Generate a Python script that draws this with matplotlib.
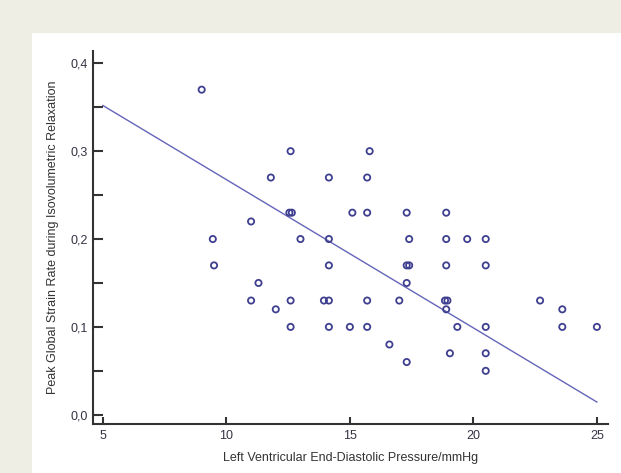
import numpy as np
import matplotlib
matplotlib.use('Agg')
import matplotlib.pyplot as plt
from matplotlib.patches import Rectangle
from matplotlib.ticker import MultipleLocator

# LVEDP (mmHg) vs peak global strain rate during IVR
lvedp = [9.0, 9.45, 9.5, 11.0, 11.0, 11.3, 11.8, 12.0, 12.6, 12.55, 12.65,
         13.0, 12.6, 12.6, 14.15, 14.15, 14.15, 13.95, 14.15, 14.15, 15.0,
         15.1, 15.7, 15.7, 15.8, 15.7, 15.7, 16.6, 17.0, 17.3, 17.4, 17.3,
         17.4, 17.3, 17.3, 18.9, 18.9, 18.9, 18.85, 18.95, 18.9, 19.35,
         19.05, 19.75, 20.5, 20.5, 20.5, 20.5, 20.5, 22.7, 23.6, 23.6, 25.0]
strain_rate = [0.37, 0.20, 0.17, 0.22, 0.13, 0.15, 0.27, 0.12, 0.30, 0.23, 0.23,
               0.20, 0.13, 0.10, 0.27, 0.20, 0.17, 0.13, 0.13, 0.10, 0.10,
               0.23, 0.23, 0.27, 0.30, 0.13, 0.10, 0.08, 0.13, 0.23, 0.20, 0.17,
               0.17, 0.15, 0.06, 0.23, 0.20, 0.17, 0.13, 0.13, 0.12, 0.10,
               0.07, 0.20, 0.20, 0.17, 0.10, 0.07, 0.05, 0.13, 0.12, 0.10, 0.10]

# regression line
fit_x = [5, 25]
fit_y = [0.352, 0.0145]

x_ticks = [5, 10, 15, 20, 25]
y_ticks = [0.0, 0.1, 0.2, 0.3, 0.4]
y_ticklabels = ['0,0', '0,1', '0,2', '0,3', '0,4']

plt.rcParams['font.family'] = ['Liberation Sans', 'DejaVu Sans']

fig = plt.figure(figsize=(6.21, 4.73), dpi=100)
fig.patch.set_facecolor('#efeee4')
# white panel behind the chart
panel = Rectangle((32 / 621, 0), 1, (473 - 33) / 473,
                  transform=fig.transFigure, facecolor='white',
                  edgecolor='none', zorder=-10)
fig.add_artist(panel)

ax = fig.add_axes([93 / 621, 49 / 473, (608 - 93) / 621, (423 - 50) / 473])
ax.set_zorder(5)
ax.set_facecolor('white')

ax.plot(fit_x, fit_y, color='#6464b9', linewidth=1.0, zorder=2)
ax.scatter(lvedp, strain_rate, s=20, facecolors='none',
           edgecolors='#3f3f90', linewidths=1.3, zorder=3)

ax.set_xlim(4.6, 25.45)
ax.set_ylim(-0.0105, 0.414)

ax.set_xticks(x_ticks)
ax.set_yticks(y_ticks)
ax.set_yticklabels(y_ticklabels)
ax.yaxis.set_minor_locator(MultipleLocator(0.05))

ax.tick_params(axis='y', which='both', direction='in', length=7, width=1.5,
               color='#333333', pad=4, labelsize=9, labelcolor='#333344')
ax.tick_params(axis='x', which='both', direction='in', length=5, width=1.5,
               color='#333333', pad=4.5, labelsize=9, labelcolor='#333344')

for side in ['top', 'right']:
    ax.spines[side].set_visible(False)
for side in ['left', 'bottom']:
    ax.spines[side].set_linewidth(1.5)
    ax.spines[side].set_color('#333333')

ax.set_xlabel('Left Ventricular End-Diastolic Pressure/mmHg', fontsize=9,
              color='#333333', labelpad=7)
ax.set_ylabel('Peak Global Strain Rate during Isovolumetric Relaxation',
              fontsize=9, color='#333333', labelpad=8)

plt.savefig('out.png', dpi=100, facecolor=fig.get_facecolor())
